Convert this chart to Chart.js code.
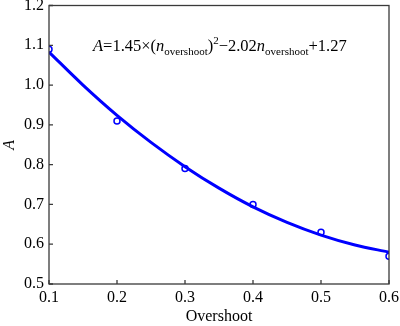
<!DOCTYPE html>
<html><head><meta charset="utf-8">
<script src="https://cdn.jsdelivr.net/npm/chart.js@4/dist/chart.umd.min.js"></script>
<style>html,body{margin:0;padding:0;background:#fff}#wrap{width:400px;height:326px}</style>
</head><body><div id="wrap"><canvas id="c" width="400" height="326"></canvas></div>
<script>
const overshoot = [0.1, 0.2, 0.3, 0.4, 0.5, 0.6];
const measuredA = [1.09, 0.91, 0.79, 0.70, 0.63, 0.57];
const fitX = [0.1, 0.15, 0.2, 0.25, 0.3, 0.35, 0.4, 0.45, 0.5, 0.55, 0.6];
const fitA = [1.083, 1.000, 0.924, 0.856, 0.795, 0.741, 0.694, 0.655, 0.623, 0.598, 0.580];
const xTicks = [0.1, 0.2, 0.3, 0.4, 0.5, 0.6];
const yTicks = [0.5, 0.6, 0.7, 0.8, 0.9, 1.0, 1.1, 1.2];

const SERIF = '"Liberation Serif", "DejaVu Serif", serif';
const BLUE = '#0000ff';

const framePlugin = {
  id: 'frame',
  afterDraw(chart) {
    const {ctx, chartArea: a, scales} = chart;
    ctx.save();
    ctx.strokeStyle = '#3a3a3a';
    ctx.lineWidth = 1.3;
    ctx.strokeRect(a.left, a.top, a.right - a.left, a.bottom - a.top);
    ctx.beginPath();
    xTicks.forEach(v => {
      const px = scales.x.getPixelForValue(v);
      ctx.moveTo(px, a.bottom); ctx.lineTo(px, a.bottom - 4);
    });
    yTicks.forEach(v => {
      const py = scales.y.getPixelForValue(v);
      ctx.moveTo(a.left, py); ctx.lineTo(a.left + 4, py);
    });
    ctx.stroke();
    // equation text
    let x = 93, y = 51;
    const big = '16.5px ' + SERIF, bigI = 'italic 16.5px ' + SERIF, small = '11px ' + SERIF;
    ctx.fillStyle = '#000';
    ctx.textBaseline = 'alphabetic';
    ctx.textAlign = 'left';
    const put = (t, f, dy) => { ctx.font = f; ctx.fillText(t, x, y + (dy || 0)); x += ctx.measureText(t).width; };
    put('A', bigI); put('=1.45×(', big); put('n', bigI); put('overshoot', small, 4); put(')', big);
    put('2', small, -7); put('−2.02', big); put('n', bigI); put('overshoot', small, 4); put('+1.27', big);
    ctx.restore();
  }
};

new Chart(document.getElementById('c'), {
  type: 'scatter',
  data: {
    datasets: [
      {
        label: 'fit',
        data: fitX.map((x, i) => ({x, y: fitA[i]})),
        showLine: true,
        borderColor: BLUE,
        borderWidth: 3,
        pointRadius: 0,
        cubicInterpolationMode: 'monotone',
        order: 2
      },
      {
        label: 'measured',
        data: overshoot.map((x, i) => ({x, y: measuredA[i]})),
        showLine: false,
        pointStyle: 'circle',
        pointRadius: 3,
        pointBorderWidth: 1.5,
        borderColor: BLUE,
        backgroundColor: 'rgba(0,0,0,0)',
        order: 1
      }
    ]
  },
  options: {
    responsive: false,
    animation: false,
    devicePixelRatio: 1,
    layout: {padding: {left: 0, top: 5, right: 11, bottom: 0}},
    plugins: {legend: {display: false}, tooltip: {enabled: false}},
    scales: {
      x: {
        type: 'linear', min: 0.1, max: 0.6,
        afterBuildTicks: s => { s.ticks = xTicks.map(v => ({value: v})); },
        afterFit: s => { s.height = 42; s.paddingLeft = 0; s.paddingRight = 0; },
        grid: {display: false, drawTicks: false},
        border: {display: false},
        ticks: {color: '#000', font: {family: SERIF, size: 16}, padding: 4, maxRotation: 0,
          callback: v => v.toFixed(1)},
        title: {display: true, text: 'Overshoot', color: '#000', font: {family: SERIF, size: 16}, padding: {top: 0, bottom: 0}}
      },
      y: {
        type: 'linear', min: 0.5, max: 1.2,
        afterBuildTicks: s => { s.ticks = yTicks.map(v => ({value: v})); },
        afterFit: s => { s.width = 49; s.paddingTop = 0; s.paddingBottom = 0; },
        grid: {display: false, drawTicks: false},
        border: {display: false},
        ticks: {color: '#000', font: {family: SERIF, size: 16}, padding: 5,
          callback: v => v.toFixed(1)},
        title: {display: true, text: 'A', color: '#000', font: {family: SERIF, size: 16, style: 'italic'}, padding: {top: 0, bottom: 0}}
      }
    }
  },
  plugins: [framePlugin]
});
</script>
</body></html>
